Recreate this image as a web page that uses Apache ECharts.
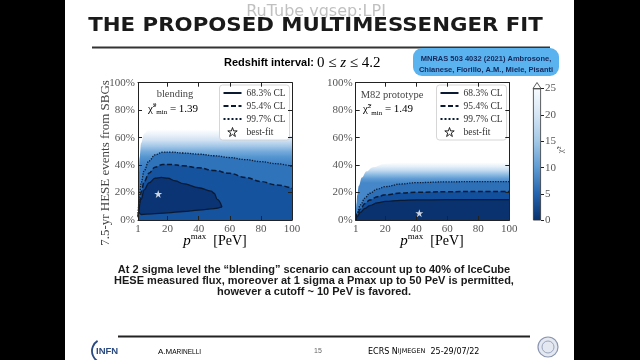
<!DOCTYPE html>
<html><head><meta charset="utf-8">
<script src="https://cdn.jsdelivr.net/npm/echarts@6/dist/echarts.min.js"></script>
<style>html,body{margin:0;padding:0;background:#000}#c{width:640px;height:360px}</style>
</head><body><div id="c"></div>
<script>
// ---------- data ----------
const xTicks = [1, 20, 40, 60, 80, 100];
const yTicks = [0, 20, 40, 60, 80, 100];
const cbTicks = [0, 5, 10, 15, 20, 25];
const clNames = ['68.3% CL', '95.4% CL', '99.7% CL'];
const bestName = 'best-fit';

// Panel 1: blending
const blendFade = [[1,10],[1.5,30],[2,45],[3,56],[5,63],[8,67],[14,69],[20,69],[30,68],[40,67],[50,66],[60,65],[70,64],[80,63],[90,62],[100,61]];
const blend997 = [[1,3],[2,18],[3,27],[5,36],[8,43],[12,47.5],[17,49.5],[22,49.5],[30,48.8],[40,48],[50,46.8],[60,45.5],[70,44],[80,42.5],[90,41],[100,39]];
const blend954 = [[1,2],[2,12],[3,20],[5,28],[8,34],[12,38.5],[17,40.5],[22,40.5],[30,39.5],[40,38],[50,36],[60,34],[70,31],[80,28],[90,25.5],[100,23]];
const blend683Upper = [[1.5,6],[3,15],[5,22],[8,27],[12,30.5],[16,31],[20,30.5],[25,28.5],[30,26.5],[40,23.5],[48,21],[50,19.5],[52,15],[55,9.5]];
const blend683Lower = [[1.5,6],[3,4],[10,4.5],[20,5.2],[30,6.2],[40,7.2],[50,8.3],[55,9.5]];
const blendBest = [[14,19]];

// Panel 2: M82 prototype
const m82Fade = [[1,2],[1.5,12],[2,18],[3,25],[5,31],[8,35.5],[12,38.5],[20,41],[30,42],[40,42.5],[60,43],[80,43],[100,43]];
const m82997 = [[1,0],[2,5.5],[4,11],[7,16],[10,19.5],[15,22.5],[20,24.3],[30,26.2],[40,27.2],[60,27.8],[80,28],[100,28]];
const m82954 = [[1,0],[2,4],[4,8],[7,12],[10,14.5],[15,17],[20,18.3],[30,19.6],[40,20.2],[60,20.6],[80,20.8],[100,20.8]];
const m82683 = [[1,0],[2,2.5],[4,5.5],[7,8.5],[10,10.5],[15,12.5],[20,13.5],[30,14.3],[40,14.6],[60,14.8],[80,14.8],[100,14.8]];
const m82Best = [[42,5]];

const colorbarMax = [25];

// ---------- style ----------
const serif = '"Liberation Serif","DejaVu Serif",serif';
const sans = '"Liberation Sans","DejaVu Sans",sans-serif';
const starPath = 'path://M50,2 L61,36 L97,36 L68,57 L79,92 L50,71 L21,92 L32,57 L3,36 L39,36 Z';
const lineCol = '#0b1a33';
const c997 = '#2f73bb', c954 = '#16539f', c683 = '#0a3474';

function grad(stops){ return {type:'linear',x:0,y:0,x2:0,y2:1,colorStops:stops.map(s=>({offset:s[0],color:s[1]}))}; }
function area(data, g, color, z){
  return {type:'line', xAxisIndex:g*2, yAxisIndex:g*2, data, smooth:0.4, smoothMonotone:'x', symbol:'none',
    lineStyle:{width:0}, areaStyle:{color, opacity:1, origin:'start'}, z, silent:true, legendHoverLink:false};
}
function cl(name, data, g, type, w){
  return {type:'line', name, xAxisIndex:g*2, yAxisIndex:g*2, data, smooth:0.4, smoothMonotone:'x', symbol:'none',
    lineStyle:{color:lineCol, width:w, type}, itemStyle:{color:lineCol}, z:8};
}
function best(data, g){
  return {type:'scatter', name:bestName, xAxisIndex:g*2, yAxisIndex:g*2, data, symbol:starPath, symbolSize:8,
    itemStyle:{color:'#fff'}, z:9};
}

const fade1 = grad([[0,'#ffffff'],[0.043,'#ffffff'],[0.10,'#eaf2fa'],[0.16,'#cfe1f2'],[0.217,'#a6c9e8'],[0.275,'#77abdc'],[0.333,'#5596d0'],[0.39,'#4587c9'],[0.45,'#3d80c5'],[1,'#3d80c5']]);
const fade2 = grad([[0,'#ffffff'],[0.023,'#ffffff'],[0.093,'#e6f0f9'],[0.163,'#c1daf0'],[0.233,'#8dbbe2'],[0.302,'#5e9bd3'],[0.372,'#4687c9'],[1,'#4687c9']]);

const series = [
  area(blendFade,0,fade1,1), area(blend997,0,c997,2), area(blend954,0,c954,3),
  area(blend683Upper,0,c683,4), area(blend683Lower,0,c954,5),
  cl(clNames[2], blend997, 0, 'dotted', 1.3), cl(clNames[1], blend954, 0, [5,2.5], 1.5),
  cl(clNames[0], blend683Upper, 0, 'solid', 1.3), cl(clNames[0], blend683Lower, 0, 'solid', 1.3),
  best(blendBest, 0),
  area(m82Fade,1,fade2,1), area(m82997,1,'#2d70b8',2), area(m82954,1,'#124f9c',3), area(m82683,1,'#09326f',4),
  cl(clNames[2], m82997, 1, 'dotted', 1.3), cl(clNames[1], m82954, 1, [5,2.5], 1.5), cl(clNames[0], m82683, 1, 'solid', 1.3),
  best(m82Best, 1),
  {type:'bar', xAxisIndex:4, yAxisIndex:4, data:colorbarMax, barWidth:'100%', silent:true,
   itemStyle:{color:grad([[0,'#f7fbff'],[0.2,'#d5e5f4'],[0.4,'#a3c8e6'],[0.6,'#5f9bd2'],[0.8,'#2463ad'],[1,'#08306b']]), borderColor:'#333', borderWidth:0.8}}
];

function xAx(g, pos){
  return {type:'value', gridIndex:g, min:1, max:100, position:pos, z:10,
    axisLine:{show:true, onZero:false, lineStyle:{color:'#222', width:1}},
    axisTick:{show:true, inside:true, length:4, customValues:xTicks, lineStyle:{color:'#222'}},
    axisLabel:{show:pos==='bottom', customValues:xTicks, margin:4, color:'#555', fontFamily:serif, fontSize:11},
    splitLine:{show:false}};
}
function yAx(g, pos){
  return {type:'value', gridIndex:g, min:0, max:100, interval:20, position:pos, z:10,
    axisLine:{show:true, onZero:false, lineStyle:{color:'#222', width:1}},
    axisTick:{show:true, inside:true, length:4, lineStyle:{color:'#222'}},
    axisLabel:{show:pos==='left', margin:3, color:'#555', fontFamily:serif, fontSize:11, formatter:'{value}%'},
    splitLine:{show:false}};
}

function legend(left){
  const d = clNames.map(n=>({name:n, itemStyle:{opacity:0}}));
  d.push({name:bestName, icon:starPath, itemStyle:{color:'#fff', borderColor:'#222', borderWidth:1, opacity:1}});
  return {left, top:85, orient:'vertical', itemWidth:18, itemHeight:9, itemGap:2, padding:[2.5,4,2.5,3],
    backgroundColor:'rgba(255,255,255,0.92)', borderColor:'#ccc', borderWidth:0.8, borderRadius:3,
    textStyle:{fontFamily:serif, fontSize:9.5, color:'#333', lineHeight:11}, selectedMode:false, data:d};
}

function chiText(x, y, val){
  return {type:'text', x, y, z:20, style:{text:'{c|χ̃}{s|2}{m|min}{c| = '+val+'}', align:'center', verticalAlign:'middle',
    textAlign:'center', textVerticalAlign:'middle',
    rich:{c:{fontFamily:serif, fontSize:11, color:'#444', lineHeight:14},
          s:{fontFamily:serif, fontSize:7, color:'#444', verticalAlign:'top', lineHeight:14},
          m:{fontFamily:serif, fontSize:7, color:'#444', verticalAlign:'bottom', lineHeight:12}}}};
}
function txt(x, y, text, font, fill, align, extra){
  return Object.assign({type:'text', x, y, z:20, style:{text, font, fill, align:align||'center', verticalAlign:'middle', textAlign:align||'center', textVerticalAlign:'middle'}}, extra||{});
}
function pmaxText(x, y){
  return {type:'text', x, y, z:20, style:{text:'{p|p}{s|max}{b|  [PeV]}', align:'center', verticalAlign:'middle', textAlign:'center', textVerticalAlign:'middle',
    rich:{p:{fontFamily:serif, fontStyle:'italic', fontSize:15, color:'#444', lineHeight:18},
          s:{fontFamily:serif, fontSize:9, color:'#444', verticalAlign:'top', lineHeight:18},
          b:{fontFamily:serif, fontSize:14, color:'#444', lineHeight:18}}}};
}

const graphic = [
  {type:'rect', z:-100, shape:{x:65, y:0, width:509, height:360}, style:{fill:'#fff'}},
  txt(316, 12, 'RuTube vgsep:LPI', '16px "DejaVu Sans"', 'rgba(140,140,140,0.55)'),
  txt(315.5, 26, 'THE PROPOSED MULTIMESSENGER FIT', 'bold 19px "DejaVu Sans"', '#1a1a1a', 'center', {scaleX:1.12}),
  {type:'line', z:20, shape:{x1:92, y1:47.5, x2:550, y2:47.5}, style:{stroke:'#333', lineWidth:2}},
  {type:'text', x:224, y:63, z:20, style:{text:'{b|Redshift interval: }{m|0 ≤ }{i|z}{m| ≤ 4.2}', align:'left', verticalAlign:'middle', textAlign:'left', textVerticalAlign:'middle',
    rich:{b:{fontFamily:sans, fontWeight:'bold', fontSize:11, color:'#111'}, m:{fontFamily:serif, fontSize:15, color:'#111'}, i:{fontFamily:serif, fontStyle:'italic', fontSize:15, color:'#111'}}}},
  {type:'rect', z:20, shape:{x:413, y:48, width:146, height:28, r:9}, style:{fill:'#5ab2ee'}},
  txt(486, 58.5, 'MNRAS 503 4032 (2021) Ambrosone,', 'bold 7.5px "Liberation Sans"', '#14285a'),
  txt(486, 69.5, 'Chianese, Fiorillo, A.M., Miele, Pisanti', 'bold 7.5px "Liberation Sans"', '#14285a'),
  txt(106, 163, '7.5-yr HESE events from SBGs', '13px "Liberation Serif"', '#444', 'center', {rotation:Math.PI/2}),
  txt(175, 94.5, 'blending', '10.5px "Liberation Serif"', '#444'),
  chiText(173, 109, '1.39'),
  txt(392, 95, 'M82 prototype', '10.5px "Liberation Serif"', '#444'),
  chiText(388, 109.5, '1.49'),
  pmaxText(215, 241.5), pmaxText(432, 241.5),
  {type:'polygon', z:20, shape:{points:[[533,88.5],[541,88.5],[537,82.5]]}, style:{fill:'#fff', stroke:'#333', lineWidth:0.8}},
  txt(561, 150, 'χ̃²', '9px "Liberation Serif"', '#555', 'center', {rotation:Math.PI/2}),
  txt(314, 270, 'At 2 sigma level the “blending” scenario can account up to 40% of IceCube', 'bold 11px "Liberation Sans"', '#1a1a1a'),
  txt(314, 281, 'HESE measured flux, moreover at 1 sigma a Pmax up to 50 PeV is permitted,', 'bold 11px "Liberation Sans"', '#1a1a1a'),
  txt(314, 292, 'however a cutoff ~ 10 PeV is favored.', 'bold 11px "Liberation Sans"', '#1a1a1a'),
  {type:'line', z:20, shape:{x1:118, y1:336.5, x2:530, y2:336.5}, style:{stroke:'#222', lineWidth:1.8}},
  {type:'arc', z:20, shape:{cx:104, cy:351, r:12, startAngle:Math.PI*0.62, endAngle:Math.PI*1.32}, style:{stroke:'#2a4a80', lineWidth:1.8, fill:'none'}},
  txt(96, 351, 'INFN', 'bold 9.5px "Liberation Sans"', '#2a4a80', 'left'),
  {type:'text', x:158, y:352, z:20, style:{text:'{b|A.M}{s|ARINELLI}', align:'left', verticalAlign:'middle', textAlign:'left', textVerticalAlign:'middle',
    rich:{b:{fontFamily:sans, fontSize:8, color:'#333'}, s:{fontFamily:sans, fontSize:6.5, color:'#333'}}}},
  txt(318, 351.5, '15', '7px "Liberation Sans"', '#666'),
  {type:'text', x:368, y:351.5, z:20, style:{text:'{b|ECRS N}{s|IJMEGEN}{b|  25-29/07/22}', align:'left', verticalAlign:'middle', textAlign:'left', textVerticalAlign:'middle',
    rich:{b:{fontFamily:'"DejaVu Sans"', fontSize:8, color:'#333'}, s:{fontFamily:'"DejaVu Sans"', fontSize:6.5, color:'#333'}}}},
  {type:'circle', z:20, shape:{cx:548, cy:347, r:10}, style:{fill:'#e4e8f0', stroke:'#8a96b0', lineWidth:1.2}},
  {type:'circle', z:21, shape:{cx:548, cy:347, r:6}, style:{fill:'none', stroke:'#9aa5bd', lineWidth:1}}
];

const option = {
  backgroundColor:'#000',
  animation:false,
  grid:[
    {left:138, top:82.7, width:154, height:137.3},
    {left:355.7, top:82.7, width:153.6, height:137.3},
    {left:533, top:88.5, width:8, height:132}
  ],
  xAxis:[xAx(0,'bottom'), xAx(0,'top'), xAx(1,'bottom'), xAx(1,'top'),
    {type:'category', gridIndex:2, data:[''], show:false}],
  yAxis:[yAx(0,'left'), yAx(0,'right'), yAx(1,'left'), yAx(1,'right'),
    {type:'value', gridIndex:2, min:0, max:25, interval:5, position:'right', z:10,
     axisLine:{show:false}, axisTick:{show:true, length:3, lineStyle:{color:'#222'}},
     axisLabel:{margin:4, color:'#555', fontFamily:serif, fontSize:11, customValues:cbTicks}, splitLine:{show:false}}],
  legend:[legend(219.5), legend(436.5)],
  series,
  graphic
};
const chart = echarts.init(document.getElementById('c'), null, {renderer:'canvas'});
chart.setOption(option);
</script></body></html>
